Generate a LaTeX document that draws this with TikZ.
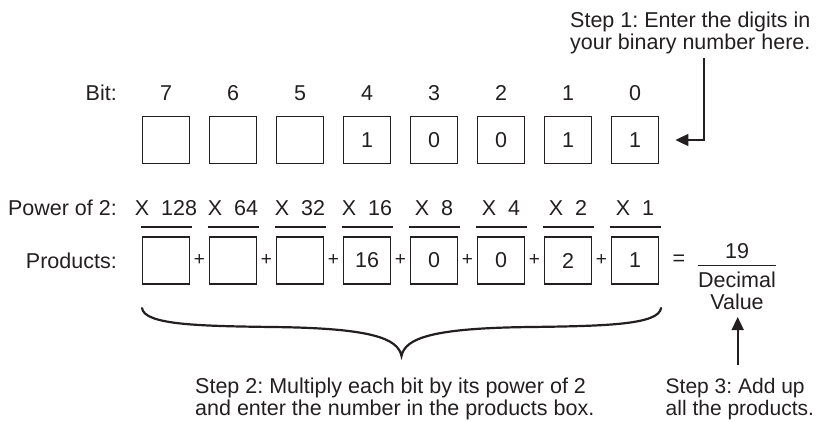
\documentclass[tikz,border=0pt]{standalone}
\usepackage{fontspec}
\setmainfont{Liberation Sans}
\usetikzlibrary{arrows.meta}
\definecolor{ink}{HTML}{231F20}
\newcommand{\mainsz}{\fontsize{21.5}{22}\selectfont\frenchspacing}
\newcommand{\smallnotesz}{\fontsize{21}{22}\selectfont\frenchspacing}
\newcommand{\plussz}{\fontsize{19}{22}\selectfont}
\begin{document}
\frenchspacing
\begin{tikzpicture}[x=1pt,y=-1pt,
  every node/.style={text=ink},
  bitbox/.style={draw=ink, line width=1.8pt, minimum size=47pt, inner sep=0pt, font=\mainsz},
  lbl/.style={anchor=base, inner sep=0pt, font=\mainsz},
  rlbl/.style={anchor=base east, inner sep=0pt, font=\mainsz},
  note/.style={anchor=north west, inner sep=0pt, align=left, font=\mainsz},
  plussign/.style={inner sep=0pt, font=\plussz},
  uline/.style={draw=ink, line width=2pt},
  arr/.style={draw=ink, line width=1.7pt, -{Triangle[length=13pt,width=12pt]}},
  bracepath/.style={draw=ink, line width=2.2pt, line cap=round}
]
\useasboundingbox (0,0) rectangle (816,421);

% Row labels
\node[rlbl] (bitlbl) at (117,100.5) {Bit:};
\node[rlbl] (powlbl) at (117,215) {Power of 2:};
\node[rlbl] (prodlbl) at (117,268) {Products:};

% Bit numbers, bit boxes, powers, product boxes
\foreach \i/\b/\v/\p/\pv in {0/7//128/, 1/6//64/, 2/5//32/, 3/4/1/16/16, 4/3/0/8/0, 5/2/0/4/0, 6/1/1/2/2, 7/0/1/1/1} {
  \pgfmathsetmacro{\cx}{166+67*\i}
  \node[lbl] (bn\b) at (\cx,100.5) {\b};
  \node[bitbox] (b\b) at (\cx,140) {\v};
  \node[lbl] (pw\b) at (\cx,215) {X\ \ \p};
  \draw[uline] (\cx-25.5,227) -- (\cx+25.5,227);
  \node[bitbox] (p\b) at (\cx,260.5) {\pv};
}
% plus signs
\foreach \i in {0,...,6} {
  \pgfmathsetmacro{\px}{166+67*\i+33.5}
  \node[plussign] (plus\i) at (\px,260) {+};
}

% equals and fraction
\node[inner sep=0pt, font=\mainsz] (eq) at (679,260) {=};
\node[lbl] (sum) at (737,258.7) {19};
\draw[draw=ink, line width=1.3pt] (698,265.5) -- (776,265.5);
\node[anchor=north, inner sep=0pt, align=center, font=\mainsz] (dec) at (737,272) {Decimal\\Value};

% Step 1
\node[note] (step1) at (570,11.3) {Step 1: Enter the digits in\\your binary number here.};
\coordinate (s1a) at (704,58);
\draw[arr] (s1a) |- ([xshift=16pt]b0.east);

% Step 2 with brace
\node[note] (step2) at (195,377.3) {Step 2: Multiply each bit by its power of 2\\and enter the number in the products box.};
\coordinate (brL) at (142,308);
\coordinate (brM) at (401.5,356);
\coordinate (brR) at (661,308);
\draw[bracepath] (brL) .. controls (144,325) and (200,326) .. (272,327)
  .. controls (370,328) and (398,338) .. (brM)
  .. controls (405,338) and (433,328) .. (531,327)
  .. controls (603,326) and (659,325) .. (brR);

% Step 3
\node[note, font=\smallnotesz] (step3) at (665.5,377.6) {Step 3: Add up\\all the products.};
\coordinate (s3a) at (737.7,365);
\coordinate (s3b) at (737.7,317);
\draw[arr] (s3a) -- (s3b);
\end{tikzpicture}
\end{document}
